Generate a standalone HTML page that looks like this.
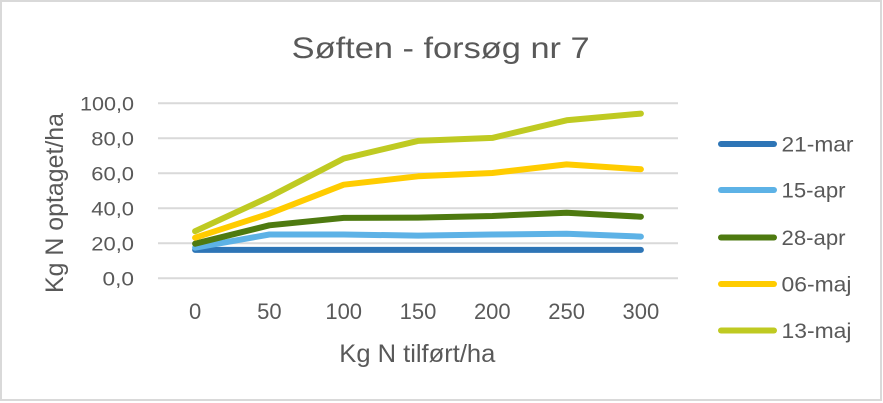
<!DOCTYPE html>
<html>
<head>
<meta charset="utf-8">
<style>
  html, body { margin: 0; padding: 0; background: #ffffff; }
  svg { display: block; }
  text { font-family: "Liberation Sans", "DejaVu Sans", sans-serif; fill: #595959; }
</style>
</head>
<body>
<svg width="883" height="403" viewBox="0 0 883 403" xmlns="http://www.w3.org/2000/svg">
  <rect x="0" y="0" width="883" height="403" fill="#ffffff"/>
  <rect x="1" y="1" width="880" height="399" fill="none" stroke="#d9d9d9" stroke-width="2"/>

  <!-- Title -->
  <text x="291.7" y="58" font-size="30" textLength="298" lengthAdjust="spacingAndGlyphs">Søften - forsøg nr 7</text>

  <!-- Gridlines -->
  <g stroke="#d9d9d9" stroke-width="2">
    <line x1="158" y1="103.3" x2="678" y2="103.3"/>
    <line x1="158" y1="138.3" x2="678" y2="138.3"/>
    <line x1="158" y1="173.3" x2="678" y2="173.3"/>
    <line x1="158" y1="208.3" x2="678" y2="208.3"/>
    <line x1="158" y1="243.3" x2="678" y2="243.3"/>
    <line x1="158" y1="278.3" x2="678" y2="278.3"/>
  </g>

  <!-- Y tick labels -->
  <g font-size="19" text-anchor="end">
    <text x="134" y="110.3" textLength="54" lengthAdjust="spacingAndGlyphs">100,0</text>
    <text x="134" y="145.3" textLength="42.7" lengthAdjust="spacingAndGlyphs">80,0</text>
    <text x="134" y="180.3" textLength="42.7" lengthAdjust="spacingAndGlyphs">60,0</text>
    <text x="134" y="215.3" textLength="42.7" lengthAdjust="spacingAndGlyphs">40,0</text>
    <text x="134" y="250.3" textLength="42.7" lengthAdjust="spacingAndGlyphs">20,0</text>
    <text x="134" y="285.3" textLength="31.5" lengthAdjust="spacingAndGlyphs">0,0</text>
  </g>

  <!-- X tick labels -->
  <g font-size="22" text-anchor="middle">
    <text x="195.1" y="319">0</text>
    <text x="269.4" y="319">50</text>
    <text x="343.7" y="319">100</text>
    <text x="418.0" y="319">150</text>
    <text x="492.3" y="319">200</text>
    <text x="566.6" y="319">250</text>
    <text x="640.9" y="319">300</text>
  </g>

  <!-- Axis titles -->
  <text x="339.3" y="362" font-size="25" textLength="156" lengthAdjust="spacingAndGlyphs">Kg N tilført/ha</text>
  <text transform="translate(63,203) rotate(-90)" x="0" y="0" font-size="25" text-anchor="middle" textLength="180" lengthAdjust="spacingAndGlyphs">Kg N optaget/ha</text>

  <!-- Series -->
  <g fill="none" stroke-width="6" stroke-linecap="round" stroke-linejoin="round">
    <polyline stroke="#2e75b6" points="195.1,249.9 269.4,249.9 343.7,249.9 418.0,249.9 492.3,249.9 566.6,249.9 640.9,249.9"/>
    <polyline stroke="#5db2e6" points="195.1,247.7 269.4,234.5 343.7,234.5 418.0,235.6 492.3,234.5 566.6,233.7 640.9,236.6"/>
    <polyline stroke="#4e7a10" points="195.1,243.7 269.4,225.3 343.7,217.9 418.0,217.6 492.3,216.0 566.6,212.7 640.9,216.7"/>
    <polyline stroke="#ffcc00" points="195.1,237.7 269.4,213.6 343.7,184.7 418.0,176.3 492.3,173.0 566.6,164.4 640.9,169.3"/>
    <polyline stroke="#bfca22" points="195.1,231.2 269.4,196.9 343.7,158.6 418.0,140.9 492.3,137.9 566.6,120.3 640.9,113.6"/>
  </g>

  <!-- Legend -->
  <g stroke-width="6" stroke-linecap="round">
    <line x1="721" y1="144" x2="774" y2="144" stroke="#2e75b6"/>
    <line x1="721" y1="190" x2="774" y2="190" stroke="#5db2e6"/>
    <line x1="721" y1="237.5" x2="774" y2="237.5" stroke="#4e7a10"/>
    <line x1="721" y1="284" x2="774" y2="284" stroke="#ffcc00"/>
    <line x1="721" y1="330.5" x2="774" y2="330.5" stroke="#bfca22"/>
  </g>
  <g font-size="21">
    <text x="781.5" y="151.5" textLength="72" lengthAdjust="spacingAndGlyphs">21-mar</text>
    <text x="781.5" y="197.5" textLength="64" lengthAdjust="spacingAndGlyphs">15-apr</text>
    <text x="781.5" y="245" textLength="64" lengthAdjust="spacingAndGlyphs">28-apr</text>
    <text x="781.5" y="291.5" textLength="70" lengthAdjust="spacingAndGlyphs">06-maj</text>
    <text x="781.5" y="338" textLength="70" lengthAdjust="spacingAndGlyphs">13-maj</text>
  </g>
</svg>
</body>
</html>
